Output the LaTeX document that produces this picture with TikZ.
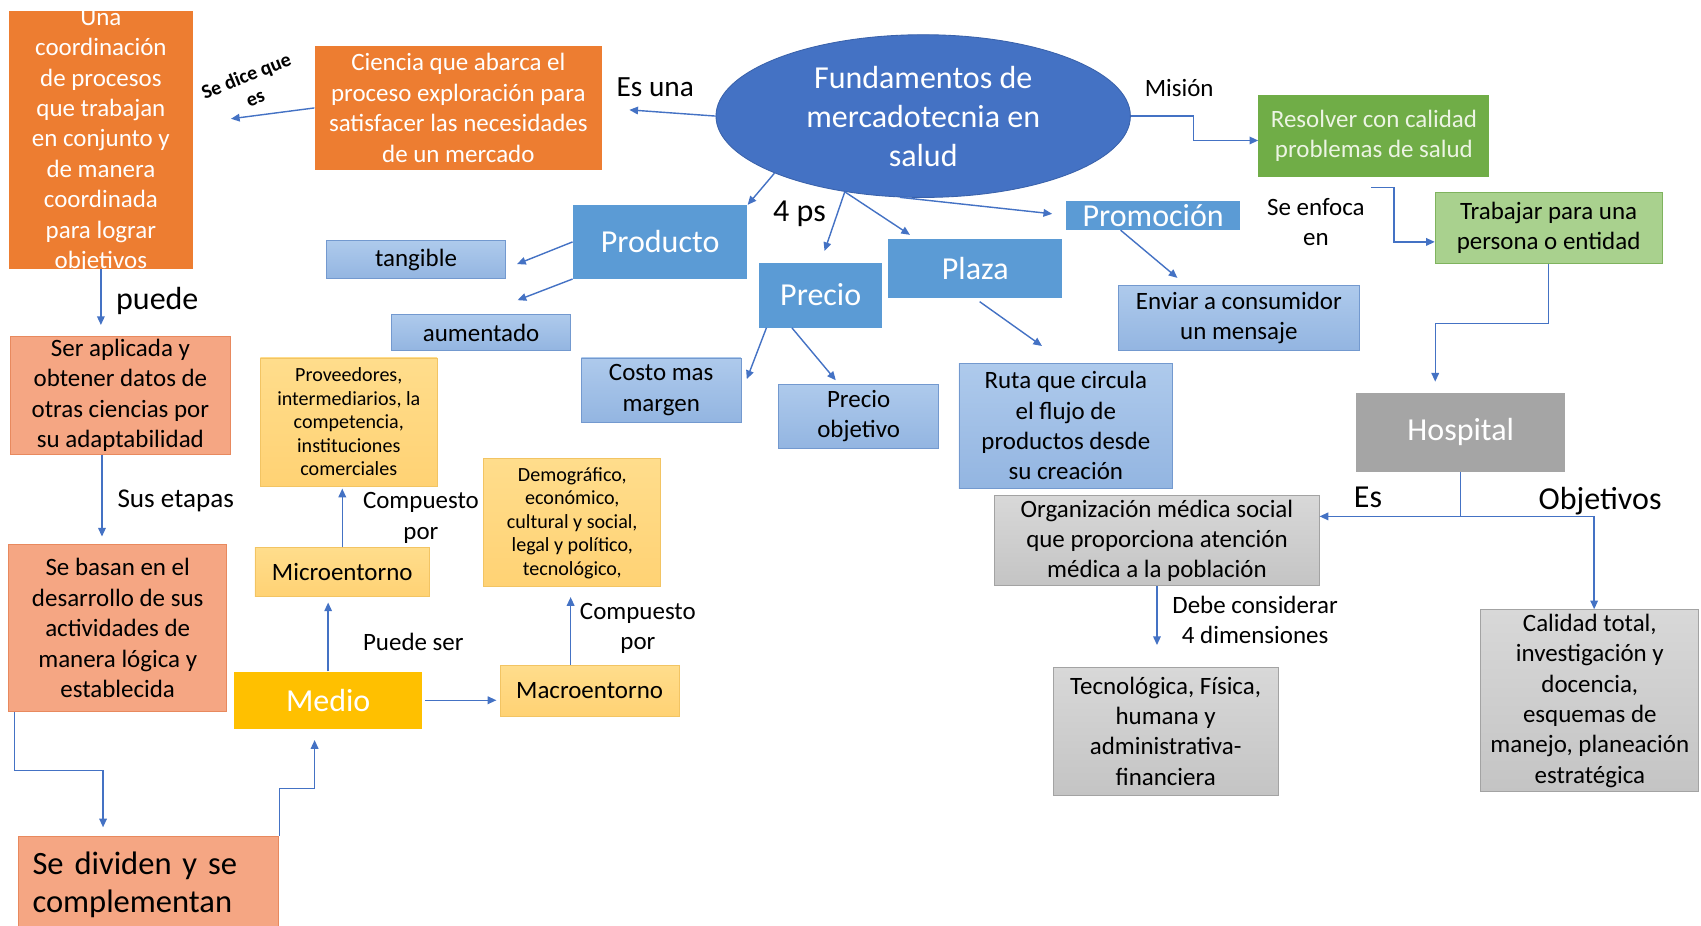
\documentclass[tikz,border=0pt]{standalone}
\usepackage{fontspec}
\setmainfont{Carlito}
\usetikzlibrary{arrows.meta,shapes.geometric,calc}
\definecolor{cOr}{HTML}{ED7D31}
\definecolor{cSal}{HTML}{F5A683}
\definecolor{cSalB}{HTML}{E8895E}
\definecolor{cBlue}{HTML}{5B9BD5}
\definecolor{cLBt}{HTML}{AECAEC}
\definecolor{cLBb}{HTML}{93B5E1}
\definecolor{cLBd}{HTML}{7399CF}
\definecolor{cGreen}{HTML}{70AD47}
\definecolor{cGT}{HTML}{ECF4E3}
\definecolor{cLG}{HTML}{A9D18E}
\definecolor{cLGd}{HTML}{7FB35E}
\definecolor{cGray}{HTML}{A5A5A5}
\definecolor{cLGrt}{HTML}{D8D8D8}
\definecolor{cLGrb}{HTML}{C4C4C4}
\definecolor{cLGrd}{HTML}{A3A3A3}
\definecolor{cYel}{HTML}{FFC000}
\definecolor{cLYt}{HTML}{FFDD8C}
\definecolor{cLYb}{HTML}{FFD274}
\definecolor{cLYd}{HTML}{F2C463}
\definecolor{cEll}{HTML}{4472C4}
\definecolor{cEllB}{HTML}{3A62AB}
\definecolor{cArr}{HTML}{4472C4}
\newcommand\fsn{\fontsize{23}{28}\selectfont}
\newcommand\fsb{\fontsize{29.5}{36}\selectfont}
\newcommand\fss{\fontsize{18.5}{21.7}\selectfont}
\newcommand\fsl{\fontsize{25}{30}\selectfont}
\begin{document}
\begin{tikzpicture}[x=1pt,y=-1pt,
  bx/.style={rectangle, inner sep=0pt, align=center},
  orbox/.style={bx, fill=cOr, text=white, font=\fsn},
  salbox/.style={bx, fill=cSal, draw=cSalB, line width=0.8pt, font=\fsn},
  bluebox/.style={bx, fill=cBlue, text=white, font=\fsb},
  lbbox/.style={bx, top color=cLBt, bottom color=cLBb, draw=cLBd, line width=0.8pt, font=\fsn},
  grbox/.style={bx, top color=cLGrt, bottom color=cLGrb, draw=cLGrd, line width=0.8pt, font=\fsn},
  lybox/.style={bx, top color=cLYt, bottom color=cLYb, draw=cLYd, line width=0.8pt},
  lbl/.style={inner sep=0pt, align=center, font=\fsn},
  arr/.style={draw=cArr, line width=1.3pt, -{Triangle[length=8pt,width=7pt]}}
]
\useasboundingbox (0,0) rectangle (1568,853);

% central ellipse
\node[ellipse, fill=cEll, draw=cEllB, line width=0.8pt, minimum width=382pt, minimum height=150pt,
  inner sep=0pt, text=white, font=\fsb, align=center] (fund) at (851,107)
  {Fundamentos de\\mercadotecnia en\\salud};

% orange boxes
\node[orbox, minimum width=170pt, minimum height=238pt] (una) at (93,129) {};
\node[lbl, text=white] (unatxt) at (93,130) {Una\\coordinación\\de procesos\\que trabajan\\en conjunto y\\de manera\\coordinada\\para lograr\\objetivos};
\node[orbox, minimum width=265pt, minimum height=115pt] (ciencia) at (422.5,99.5)
  {Ciencia que abarca el\\proceso exploración para\\satisfacer las necesidades\\de un mercado};

% salmon boxes
\node[salbox, minimum width=202pt, minimum height=109pt] (ser) at (111,364.5)
  {Ser aplicada y\\obtener datos de\\otras ciencias por\\su adaptabilidad};
\node[salbox, minimum width=201pt, minimum height=154pt] (basan) at (108.5,579)
  {Se basan en el\\desarrollo de sus\\actividades de\\manera lógica y\\establecida};
\node[salbox, minimum width=240pt, minimum height=89pt, text width=214pt, align=left,
  font=\fontsize{30}{35}\selectfont] (dividen) at (137,815.5)
  {Se dividen y se\\complementan};

% yellow boxes
\node[bx, fill=cYel, text=white, font=\fsb, minimum width=173pt, minimum height=53pt] (medio) at (302.5,645.5) {Medio};
\node[lybox, font=\fsn, minimum width=161pt, minimum height=45pt] (micro) at (315.5,527.5) {Microentorno};
\node[lybox, font=\fsn, minimum width=165pt, minimum height=47pt] (macro) at (543.5,636.5) {Macroentorno};
\node[lybox, font=\fss, minimum width=163pt, minimum height=118pt] (prov) at (321.5,389)
  {Proveedores,\\intermediarios, la\\competencia,\\instituciones\\comerciales};
\node[lybox, font=\fss, minimum width=163pt, minimum height=118pt] (demo) at (527.5,482)
  {Demográfico,\\económico,\\cultural y social,\\legal y político,\\tecnológico,};

% blue solid boxes
\node[bluebox, minimum width=161pt, minimum height=68pt] (producto) at (608.5,223) {Producto};
\node[bluebox, minimum width=113pt, minimum height=60pt] (precio) at (756.5,272) {Precio};
\node[bluebox, minimum width=160pt, minimum height=55pt] (plaza) at (899,247.5) {Plaza};
\node[bluebox, minimum width=160pt, minimum height=27pt] (promo) at (1063,198.5) {Promoción};

% light blue boxes
\node[lbbox, minimum width=165pt, minimum height=35pt] (tang) at (383.5,239.5) {tangible};
\node[lbbox, minimum width=165pt, minimum height=33pt] (aum) at (443.5,306.5) {aumentado};
\node[lbbox, minimum width=147pt, minimum height=59pt] (costo) at (609.5,359.5) {Costo mas\\margen};
\node[lbbox, minimum width=147pt, minimum height=59pt] (pobj) at (791.5,383.5) {Precio\\objetivo};
\node[lbbox, minimum width=197pt, minimum height=115pt] (ruta) at (982.5,392.5)
  {Ruta que circula\\el flujo de\\productos desde\\su creación};
\node[lbbox, minimum width=222pt, minimum height=60pt] (enviar) at (1142,293)
  {Enviar a consumidor\\un mensaje};

% green boxes
\node[bx, fill=cGreen, text=cGT, font=\fsn, minimum width=213pt, minimum height=75pt] (resolver) at (1266.5,125.5)
  {Resolver con calidad\\problemas de salud};
\node[bx, fill=cLG, draw=cLGd, line width=0.8pt, font=\fsn, minimum width=209pt, minimum height=66pt] (trabajar) at (1427.5,210)
  {Trabajar para una\\persona o entidad};

% gray boxes
\node[bx, fill=cGray, text=white, font=\fsb, minimum width=193pt, minimum height=73pt] (hospital) at (1346.5,398.5) {Hospital};
\node[grbox, minimum width=299pt, minimum height=83pt] (org) at (1066.5,498.5)
  {Organización médica social\\que proporciona atención\\médica a la población};
\node[grbox, minimum width=207pt, minimum height=118pt] (tec) at (1074.5,674)
  {Tecnológica, Física,\\humana y\\administrativa-\\financiera};
\node[grbox, minimum width=201pt, minimum height=168pt] (cal) at (1465.5,646)
  {Calidad total,\\investigación y\\docencia,\\esquemas de\\manejo, planeación\\estratégica};

% labels
\node[lbl, font=\bfseries\fontsize{18.5}{22}\selectfont, rotate=22] (sedice) at (231,80) {Se dice que\\es};
\node[lbl, font=\fontsize{27}{32}\selectfont] (esuna) at (604,80) {Es una};
\node[lbl] (mision) at (1087,81) {Misión};
\node[lbl] (enfoca) at (1213,204.5) {Se enfoca\\en};
\node[lbl, font=\fsb] (cuatro) at (737,197) {4 ps};
\node[lbl, font=\fsb] (puede) at (145,277) {puede};
\node[lbl, font=\fsl] (etapas) at (162,462) {Sus etapas};
\node[lbl] (comp1) at (388,477.5) {Compuesto\\por};
\node[lbl] (puedeser) at (381,592) {Puede ser};
\node[lbl] (comp2) at (588,579.5) {Compuesto\\por};
\node[lbl, font=\fsb] (es) at (1261,458) {Es};
\node[lbl, font=\fsb] (objet) at (1475,462) {Objetivos};
\node[lbl] (debe) at (1157,571.5) {Debe considerar\\4 dimensiones};

% connectors
\coordinate (enf) at (1264,173);
\draw[arr, shorten >=25pt] (fund.west) -- (ciencia.east);
\draw[arr, shorten >=35pt] (ciencia.west) -- (una.east |- 0,114);
\draw[arr] (fund.east) -- ++(58,0) |- ([yshift=-4pt]resolver.west);
\draw[arr] (enf) -- ++(21,0) |- ([yshift=-13pt]trabajar.west);
\draw[arr, shorten >=10pt] (trabajar.south) -- ++(0,55) -| ([xshift=-23.5pt]hospital.north);
\draw[arr] (hospital.south) |- ([yshift=22.5pt]org.east);
\draw[arr] (hospital.south) -- ++(0,41) -| ([xshift=4pt]cal.north);
\draw[arr, shorten >=20pt] (org.south) -- (org.south |- tec.north);

\draw[arr] (fund.201) -- (producto.north east);
\draw[arr, shorten >=11pt] (fund.224) -- (precio.north);
\draw[arr, shorten >=6pt] (fund.224) -- ([xshift=25pt]plaza.north west);
\draw[arr, shorten >=13pt] (fund.254) -- (promo.west);
\draw[arr, shorten >=10pt] ([xshift=-30pt]promo.south) -- ([xshift=-49pt]enviar.north);
\draw[arr, shorten <=5pt, shorten >=27pt] (plaza.south) -- (ruta.north);
\draw[arr] ([xshift=-50pt]precio.south) -- ([xshift=5pt,yshift=10pt]costo.east);
\draw[arr, shorten >=4pt] ([xshift=-26.5pt]precio.south) -- ([xshift=-18.5pt]pobj.north);
\draw[arr, shorten >=11pt] (producto.west) -- ([yshift=-8pt]tang.east);
\draw[arr, shorten >=36pt] (producto.south west) -- (aum.north);

\draw[arr, shorten >=10pt] (una.south) -- (una.south |- ser.north);
\draw[arr, shorten >=7pt] ([xshift=-17pt]ser.south) -- ([xshift=-17pt]ser.south |- basan.north);
\draw[arr, shorten >=8pt] ([xshift=6pt]basan.south west) -- ++(0,54) -| ([xshift=-42pt]dividen.north);
\draw[arr, shorten >=10pt] (dividen.north east) -- ++(0,-44) -| ([xshift=-12.5pt]medio.south);
\draw[arr, shorten <=3pt, shorten >=3pt] (medio.east) -- (medio.east -| macro.west);
\draw[arr, shorten >=5pt] (medio.north) -- (medio.north |- micro.south);
\draw[arr, shorten >=2pt] (micro.north) -- (micro.north |- prov.south);
\draw[arr, shorten >=9pt] ([xshift=-17.5pt]macro.north) -- ([xshift=-17.5pt]macro.north |- demo.south);
\end{tikzpicture}
\end{document}
